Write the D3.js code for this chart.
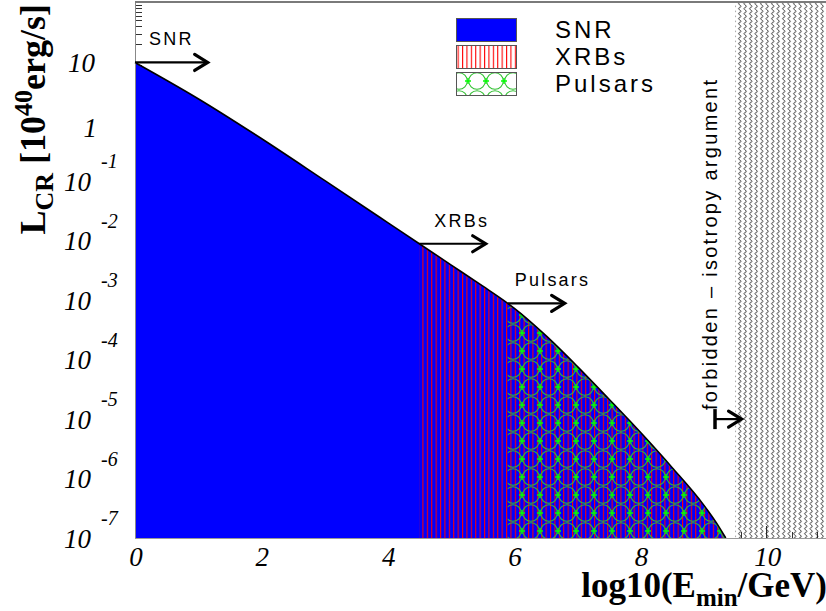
<!DOCTYPE html>
<html>
<head>
<meta charset="utf-8">
<script src="https://cdn.jsdelivr.net/npm/d3@7"></script>
<style>
  body { margin: 0; background: #fff; }
  svg { display: block; }
</style>
</head>
<body>
<svg id="chart" width="826" height="611"></svg>
<script>
// Integrated cosmic-ray luminosity above E_min, in units of 10^40 erg/s
const logEmin = [0, 1, 2, 3, 4, 4.5, 5, 5.5, 5.9, 6, 6.5, 7, 7.5, 8, 8.5, 9, 9.2, 9.35];
const lumCR   = [10, 2.455, 0.525, 0.1035, 0.0202, 0.00891, 0.00394, 0.00174, 8.87e-4, 7.38e-4,
                 2.56e-4, 7.73e-5, 2.18e-5, 6.0e-6, 1.54e-6, 3.61e-7, 1.81e-7, 1.0e-7];

// Source classes and the log10(E_min/GeV) above which each one contributes
const sourceNames      = ["SNR", "XRBs", "Pulsars"];
const sourceThresholds = [0, 4.5, 5.9];
const arrowEnds        = [1.15, 5.55, 6.8];

// Isotropy bound
const forbiddenFrom  = 9.5;
const forbiddenArrow = [9.18, 9.6];
const forbiddenLum   = 1e-5;
const forbiddenText  = "forbidden \u2013 isotropy argument";

// Axes
const xDomain = [0, 11];
const yDomain = [1e-7, 1e2];
const xTickValues = [0, 2, 4, 6, 8, 10];
const yDecades = [-7, -6, -5, -4, -3, -2, -1, 0, 1];

const svg = d3.select("#chart");
const frame = { left: 135, right: 830, top: 3, bottom: 538 };

const x = d3.scaleLinear().domain(xDomain).range([frame.left, frame.right]);
const y = d3.scaleLog().domain(yDomain).range([frame.bottom, frame.top]);

const curve = logEmin.map((e, i) => ({ e, L: lumCR[i] }));
const lumAt = e => {
  // interpolate in log space between the sampled points
  const i = d3.bisectRight(logEmin, e) - 1;
  const j = Math.min(i + 1, logEmin.length - 1);
  if (i === j) return lumCR[i];
  const t = (e - logEmin[i]) / (logEmin[j] - logEmin[i]);
  return Math.pow(10, Math.log10(lumCR[i]) * (1 - t) + Math.log10(lumCR[j]) * t);
};

// ---------- patterns ----------
const defs = svg.append("defs");

function addHatch(id, bg) {
  const p = defs.append("pattern")
    .attr("id", id).attr("patternUnits", "userSpaceOnUse")
    .attr("width", 4.4).attr("height", 10);
  if (bg) p.append("rect").attr("width", 4.4).attr("height", 10).attr("fill", bg);
  p.append("rect").attr("x", 0).attr("y", 0).attr("width", 1.1).attr("height", 10)
    .attr("fill", "#ff0000");
}
addHatch("xrbHatch", null);
addHatch("xrbHatchLegend", "#fff");

function addPulsarPattern(id, bg) {
  const s = 18, r = s / 2;
  const p = defs.append("pattern")
    .attr("id", id).attr("patternUnits", "userSpaceOnUse")
    .attr("width", s).attr("height", s);
  if (bg) p.append("rect").attr("width", s).attr("height", s).attr("fill", bg);
  p.append("circle").attr("cx", r).attr("cy", r).attr("r", r - 0.7)
    .attr("fill", "none").attr("stroke", "#30c030").attr("stroke-width", 1.1);
  // crosses where neighbouring rings touch side by side
  [[0, r], [s, r]].forEach(([cx, cy]) => {
    p.append("path")
      .attr("d", `M${cx - 3},${cy}H${cx + 3}M${cx},${cy - 3}V${cy + 3}`)
      .attr("stroke", "#00ff00").attr("stroke-width", 1.3).attr("fill", "none");
  });
}
addPulsarPattern("pulsarPat", null);
addPulsarPattern("pulsarPatLegend", "#fff");

const wavePat = defs.append("pattern")
  .attr("id", "wavePat").attr("patternUnits", "userSpaceOnUse")
  .attr("width", 5.5).attr("height", 5);
wavePat.append("path")
  .attr("d", "M2.7,0 C4.4,1.25 4.4,1.25 2.7,2.5 C1.0,3.75 1.0,3.75 2.7,5")
  .attr("fill", "none").attr("stroke", "#111").attr("stroke-width", 0.85);

// ---------- axis ticks (drawn first, fills go over them) ----------
const tickG = svg.append("g").attr("stroke", "#333").attr("stroke-width", 1).attr("shape-rendering", "crispEdges");

// y: decades and 2..9 sub-ticks
for (let d = -7; d <= 1; d++) {
  const py = y(Math.pow(10, d));
  tickG.append("line").attr("x1", frame.left).attr("x2", frame.left + 13).attr("y1", py).attr("y2", py);
  for (let m = 2; m <= 9; m++) {
    const v = m * Math.pow(10, d);
    if (v > yDomain[1]) continue;
    const pm = y(v);
    tickG.append("line").attr("x1", frame.left).attr("x2", frame.left + 6.5).attr("y1", pm).attr("y2", pm);
  }
}
// x: major every 2, minor every 0.4
d3.range(0, 11.001, 0.4).forEach(v => {
  const major = Math.abs(v / 2 - Math.round(v / 2)) < 1e-6;
  const px = x(v);
  tickG.append("line").attr("x1", px).attr("x2", px)
    .attr("y1", frame.bottom).attr("y2", frame.bottom - (major ? 12 : 6));
});

// ---------- filled luminosity curve ----------
const area = d3.area()
  .x(d => x(d.e)).y0(frame.bottom).y1(d => y(d.L))
  .curve(d3.curveMonotoneX);
const line = d3.line()
  .x(d => x(d.e)).y(d => y(d.L))
  .curve(d3.curveMonotoneX);

svg.append("path").datum(curve).attr("d", area).attr("fill", "#0000ff");

sourceThresholds.slice(1).forEach((t, i) => {
  defs.append("clipPath").attr("id", "clip" + i)
    .append("rect").attr("x", x(t)).attr("y", frame.top)
    .attr("width", frame.right - x(t)).attr("height", frame.bottom - frame.top);
});
svg.append("path").datum(curve).attr("d", area)
  .attr("fill", "url(#xrbHatch)").attr("clip-path", "url(#clip0)");
svg.append("path").datum(curve).attr("d", area)
  .attr("fill", "url(#pulsarPat)").attr("clip-path", "url(#clip1)");

svg.append("path").datum(curve).attr("d", line)
  .attr("fill", "none").attr("stroke", "#000").attr("stroke-width", 1.6);

// forbidden region
svg.append("rect")
  .attr("x", x(forbiddenFrom)).attr("y", frame.top)
  .attr("width", frame.right - x(forbiddenFrom)).attr("height", frame.bottom - frame.top)
  .attr("fill", "url(#wavePat)");

// ---------- frame ----------
svg.append("line").attr("x1", frame.left).attr("x2", 826).attr("y1", 2).attr("y2", 2)
  .attr("stroke", "#7a7a7a").attr("stroke-width", 2);
svg.append("line").attr("x1", frame.left).attr("x2", frame.left).attr("y1", frame.top).attr("y2", frame.bottom)
  .attr("stroke", "#888").attr("stroke-width", 1).attr("shape-rendering", "crispEdges");
svg.append("line").attr("x1", frame.left).attr("x2", 826).attr("y1", frame.bottom + 0.5).attr("y2", frame.bottom + 0.5)
  .attr("stroke", "#999").attr("stroke-width", 1);

// ---------- arrows ----------
function arrow(x0, x1, py, tailBar) {
  const g = svg.append("g").attr("stroke", "#000").attr("fill", "none");
  g.append("line").attr("x1", x0).attr("x2", x1 - 2).attr("y1", py).attr("y2", py).attr("stroke-width", 2.2);
  g.append("path").attr("d", `M${x1 - 13},${py - 8}L${x1},${py}L${x1 - 13},${py + 8}`)
    .attr("stroke-width", 3.2).attr("stroke-linejoin", "miter").attr("stroke-linecap", "round");
  if (tailBar) {
    g.append("line").attr("x1", x0).attr("x2", x0).attr("y1", py - 10).attr("y2", py + 10)
      .attr("stroke-width", 3.5);
  }
}
const labelDx = [14, 15, 7];
sourceNames.forEach((name, i) => {
  const t = sourceThresholds[i];
  const py = y(lumAt(t));
  arrow(x(t), x(arrowEnds[i]), py, false);
  svg.append("text")
    .attr("x", x(t) + labelDx[i]).attr("y", py - 17)
    .attr("font-family", "Liberation Sans, Arial, sans-serif")
    .attr("font-size", 18).attr("letter-spacing", 2.2)
    .text(name);
});

arrow(x(forbiddenArrow[0]), x(forbiddenArrow[1]), y(forbiddenLum), true);
svg.append("text")
  .attr("transform", `translate(717,410) rotate(-90)`)
  .attr("font-family", "Liberation Sans, Arial, sans-serif")
  .attr("font-size", 20)
  .attr("textLength", 330).attr("lengthAdjust", "spacing")
  .text(forbiddenText);

// ---------- legend ----------
const legendFills = ["#0000ff", "url(#xrbHatchLegend)", "url(#pulsarPatLegend)"];
const legendTop = [18, 45, 72];
sourceNames.forEach((name, i) => {
  svg.append("rect")
    .attr("x", 456.5).attr("y", legendTop[i] + 0.5).attr("width", 60).attr("height", 23)
    .attr("fill", legendFills[i]).attr("stroke", "#555").attr("stroke-width", 1);
  svg.append("text")
    .attr("x", 555).attr("y", legendTop[i] + 19.5)
    .attr("font-family", "Liberation Sans, Arial, sans-serif")
    .attr("font-size", 24).attr("letter-spacing", 3)
    .text(name);
});

// ---------- tick labels ----------
const serif = "Liberation Serif, Times New Roman, serif";
xTickValues.forEach(v => {
  svg.append("text")
    .attr("x", x(v) + 1).attr("y", 566)
    .attr("text-anchor", "middle")
    .attr("font-family", serif).attr("font-style", "italic").attr("font-size", 27)
    .text(v);
});

yDecades.forEach(d => {
  const py = y(Math.pow(10, d));
  const lab = svg.append("g")
    .attr("font-family", serif).attr("font-style", "italic");
  if (d === 1) {
    lab.append("text").attr("x", 95).attr("y", py + 9.5).attr("text-anchor", "end")
      .attr("font-size", 27).text("10");
  } else if (d === 0) {
    lab.append("text").attr("x", 97).attr("y", py + 15).attr("text-anchor", "end")
      .attr("font-size", 27).text("1");
  } else {
    lab.append("text").attr("x", 91).attr("y", py + 9.5).attr("text-anchor", "end")
      .attr("font-size", 27).text("10");
    lab.append("text").attr("x", 101).attr("y", py - 13).attr("text-anchor", "start")
      .attr("font-size", 20).text("-" + Math.abs(d));
  }
});

// ---------- axis titles ----------
const xt = svg.append("text")
  .attr("x", 827).attr("y", 597).attr("text-anchor", "end")
  .attr("font-family", serif).attr("font-weight", "bold").attr("font-size", 35);
xt.append("tspan").text("log10(E");
xt.append("tspan").attr("font-size", 25).attr("dy", 9).text("min");
xt.append("tspan").attr("dy", -9).text("/GeV)");

const yt = svg.append("text")
  .attr("transform", "translate(45,4) rotate(-90)")
  .attr("text-anchor", "end")
  .attr("font-family", serif).attr("font-weight", "bold").attr("font-size", 36);
yt.append("tspan").text("L");
yt.append("tspan").attr("font-size", 26).attr("dy", 8).text("CR");
yt.append("tspan").attr("dy", -8).text(" [10");
yt.append("tspan").attr("font-size", 26).attr("dy", -13).text("40");
yt.append("tspan").attr("dy", 13).text("erg/s]");
</script>
</body>
</html>
